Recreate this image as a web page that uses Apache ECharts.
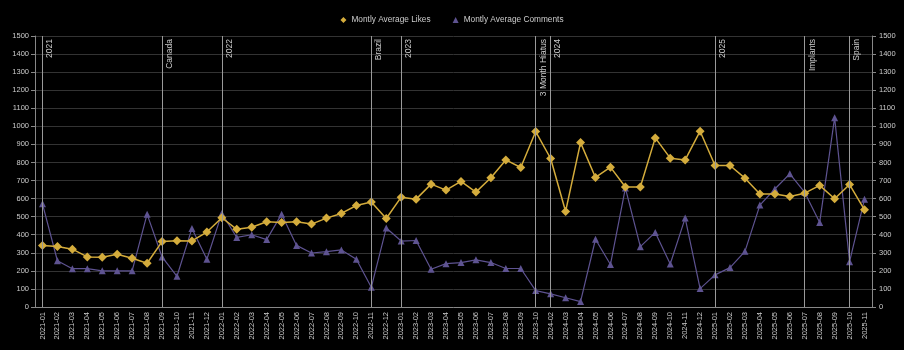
<!DOCTYPE html>
<html>
<head>
<meta charset="utf-8">
<script src="https://cdn.jsdelivr.net/npm/echarts@6/dist/echarts.min.js"></script>
<style>
  html, body { margin: 0; padding: 0; background: #000; }
  #chart { width: 904px; height: 350px; }
</style>
</head>
<body>
<div id="chart"></div>
<script>
  // months shown on the x axis (2023-11 .. 2024-01 are missing in the source)
  var months = [
    '2021-01','2021-02','2021-03','2021-04','2021-05','2021-06','2021-07','2021-08','2021-09','2021-10','2021-11','2021-12',
    '2022-01','2022-02','2022-03','2022-04','2022-05','2022-06','2022-07','2022-08','2022-09','2022-10','2022-11','2022-12',
    '2023-01','2023-02','2023-03','2023-04','2023-05','2023-06','2023-07','2023-08','2023-09','2023-10',
    '2024-02','2024-03','2024-04','2024-05','2024-06','2024-07','2024-08','2024-09','2024-10','2024-11','2024-12',
    '2025-01','2025-02','2025-03','2025-04','2025-05','2025-06','2025-07','2025-08','2025-09','2025-10','2025-11'
  ];
  var avgLikes = [
    340, 335, 320, 277, 275, 292, 270, 242, 362, 367, 366, 415,
    494, 430, 441, 472, 468, 472, 459, 492, 518, 562, 581, 490,
    608, 597, 680, 647, 695, 636, 715, 814, 772, 971,
    822, 529, 910, 717, 774, 664, 664, 936, 824, 814, 973,
    783, 783, 713, 625, 625, 612, 630, 673, 599, 678, 538
  ];
  var avgComments = [
    571, 256, 212, 212, 200, 200, 200, 514, 277, 170, 435, 264,
    518, 385, 400, 373, 514, 341, 299, 306, 316, 264, 109, 437,
    365, 368, 209, 240, 246, 261, 246, 213, 213, 91,
    73, 51, 30, 375, 235, 658, 334, 413, 238, 492, 102,
    178, 218, 308, 564, 653, 737, 634, 468, 1048, 251, 597
  ];
  // vertical event markers
  var eventMonths = ['2021-01', '2021-09', '2022-01', '2022-11', '2023-01', '2023-10', '2024-02', '2025-01', '2025-07', '2025-10'];
  var eventNames  = ['2021', 'Canada', '2022', 'Brazil', '2023', '3 Month Hiatus', '2024', '2025', 'Implants', 'Spain'];

  var likeColor = '#d4ac3c';
  var commentColor = '#5e5391';
  var textColor = '#cccccc';

  var markData = eventMonths.map(function (m, i) {
    return { xAxis: m, name: eventNames[i] };
  });

  function plain(v) { return String(v); }

  var myChart = echarts.init(document.getElementById('chart'));
  var option = {
    backgroundColor: '#000',
    animation: false,
    textStyle: { fontFamily: 'Liberation Sans, Arial, sans-serif' },
    legend: {
      top: 11,
      left: 'center',
      itemWidth: 6,
      itemHeight: 6,
      itemGap: 22,
      textStyle: { color: textColor, fontSize: 8.3 },
      data: [
        { name: 'Montly Average Likes', icon: 'diamond' },
        { name: 'Montly Average Comments', icon: 'triangle' }
      ]
    },
    grid: {
      left: 35,
      right: 32,
      top: 36,
      bottom: 43,
      outerBoundsMode: 'none'
    },
    xAxis: {
      type: 'category',
      data: months,
      boundaryGap: true,
      axisLine: { lineStyle: { color: '#888' } },
      axisTick: { show: false },
      axisLabel: { color: textColor, fontSize: 7.5, rotate: 90, interval: 0, margin: 5 },
      splitLine: { show: false }
    },
    yAxis: [
      {
        type: 'value',
        min: 0,
        max: 1500,
        interval: 100,
        axisLine: { show: true, lineStyle: { color: '#888' } },
        axisTick: { show: true, length: 4, lineStyle: { color: '#888' } },
        axisLabel: { color: textColor, fontSize: 7.5, margin: 6, formatter: plain },
        splitLine: { lineStyle: { color: '#333' } }
      },
      {
        type: 'value',
        position: 'right',
        min: 0,
        max: 1500,
        interval: 100,
        axisLine: { show: true, lineStyle: { color: '#888' } },
        axisTick: { show: true, length: 4, lineStyle: { color: '#888' } },
        axisLabel: { color: textColor, fontSize: 7.5, margin: 7, formatter: plain },
        splitLine: { show: false }
      }
    ],
    series: [
      {
        name: 'Montly Average Likes',
        type: 'line',
        data: avgLikes,
        symbol: 'diamond',
        symbolSize: 9,
        z: 3,
        itemStyle: { color: likeColor },
        lineStyle: { color: likeColor, width: 1.5 },
        markLine: {
          silent: true,
          symbol: ['none', 'none'],
          lineStyle: { color: '#9a9a9a', width: 1, type: 'solid' },
          label: {
            show: true,
            position: 'insideEndBottom',
            formatter: '{b}',
            color: textColor,
            fontSize: 8.5,
            distance: 3
          },
          data: markData
        }
      },
      {
        name: 'Montly Average Comments',
        type: 'line',
        data: avgComments,
        symbol: 'triangle',
        symbolSize: 7,
        z: 2,
        itemStyle: { color: commentColor },
        lineStyle: { color: commentColor, width: 1.2 }
      }
    ]
  };
  myChart.setOption(option);
</script>
</body>
</html>
